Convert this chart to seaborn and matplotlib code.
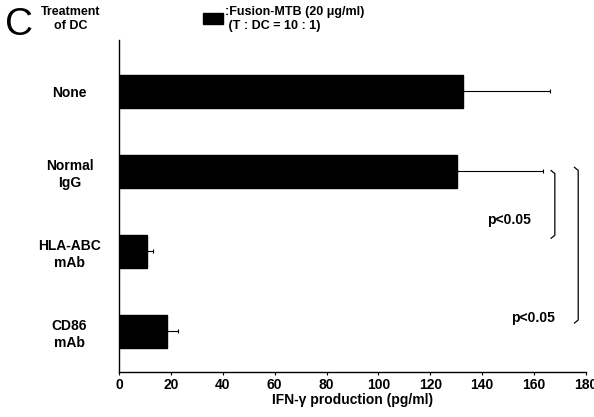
import matplotlib
matplotlib.use("Agg")
import matplotlib.pyplot as plt
import seaborn as sns
import pandas as pd
from matplotlib.patches import Rectangle

categories = ["None", "Normal\nIgG", "HLA-ABC\nmAb", "CD86\nmAb"]
values = [132.6, 130.3, 10.7, 18.4]
errors = [33.5, 33.2, 2.4, 4.4]
xticks = [0, 20, 40, 60, 80, 100, 120, 140, 160, 180]

sns.set_theme(style="white")
plt.rcParams['font.family'] = ['Liberation Sans', 'DejaVu Sans']
plt.rcParams['font.weight'] = 'bold'
for k in ['text.color', 'axes.labelcolor', 'xtick.color', 'ytick.color']:
    plt.rcParams[k] = 'black'

df = pd.DataFrame({"cat": categories, "val": values})

fig = plt.figure(figsize=(5.94, 4.17), dpi=100)
ax = fig.add_axes([0.2003, 0.108, 0.7862, 0.796])

sns.barplot(data=df, y="cat", x="val", orient="h", color="black",
            width=0.41, ax=ax, errorbar=None, saturation=1)
for p in ax.patches:
    p.set_edgecolor("black")

ypos = list(range(len(categories)))
ax.errorbar(values, ypos, xerr=[[0]*len(values), errors], fmt="none",
            ecolor="black", elinewidth=0.8, capsize=1.5, capthick=0.8)

ax.set_xlim(0, 180)
ax.set_ylim(3.51, -0.64)
ax.set_xticks(xticks)
ax.set_xticklabels([str(t) for t in xticks], fontsize=10, fontweight="bold")
ax.tick_params(axis="x", length=2, width=0.8, pad=2, color="black", bottom=True)
ax.tick_params(axis="y", length=0, pad=12)
for lab in ax.get_yticklabels():
    lab.set_horizontalalignment("center")
    lab.set_fontsize(10)
    lab.set_fontweight("bold")
    lab.set_x(-0.07)
    lab.set_linespacing(1.3)
ax.set_ylabel("")
ax.set_xlabel("IFN-γ production (pg/ml)", fontsize=10, fontweight="bold", labelpad=1)

for s in ["top", "right"]:
    ax.spines[s].set_visible(False)
for s in ["left", "bottom"]:
    ax.spines[s].set_color("black")
    ax.spines[s].set_linewidth(1.0)

# significance brackets
def bracket(x, y0, y1, w=1.5):
    ax.plot([x - w, x, x, x - w], [y0, y0 + 0.04, y1 - 0.04, y1], color="black",
            lw=0.9, clip_on=False)

bracket(168, 0.99, 1.84)
bracket(177, 0.95, 2.9)
ax.text(150.3, 1.61, "p<0.05", ha="center", va="center", fontsize=10, fontweight="bold")
ax.text(159.6, 2.83, "p<0.05", ha="center", va="center", fontsize=10, fontweight="bold")

# header texts
fig.text(5/594, 1 - 25/417, "C", fontsize=28, fontweight="normal", ha="left", va="center")
fig.text(71/594, 1 - 19/417, "Treatment\nof DC", fontsize=9, fontweight="bold",
         ha="center", va="center", linespacing=1.3)
fig.patches.append(Rectangle((203/594, 1 - 24/417), 20/594, 11/417,
                             transform=fig.transFigure, color="black"))
fig.text(225/594, 1 - 19/417, ":Fusion-MTB (20 μg/ml)\n (T : DC = 10 : 1)",
         fontsize=9, fontweight="bold", ha="left", va="center", linespacing=1.3)

fig.savefig("out.png", dpi=100)
